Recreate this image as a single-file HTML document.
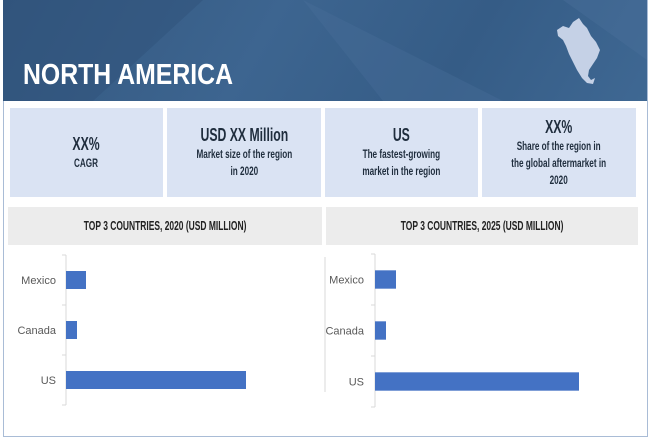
<!DOCTYPE html>
<html><head><meta charset="utf-8"><style>
body{margin:0;width:650px;height:444px;background:#fff;font-family:"Liberation Sans",sans-serif;position:relative;overflow:hidden}
.abs{position:absolute}
.box{position:absolute;top:108px;height:89px;background:#dae3f3;text-align:center;color:#1f2d3d;display:flex;flex-direction:column;justify-content:center;align-items:center;font-size:12px;line-height:17px;font-weight:bold}
.box div{transform:scaleX(0.68);white-space:nowrap}
.box b{font-size:18px;line-height:21px}
.hdr{position:absolute;top:207px;height:38px;background:#ececec;color:#222;text-align:center;line-height:38px}
.hdr span{display:inline-block;font-size:13px;font-weight:bold;transform:scaleX(0.65);white-space:nowrap}
.lbl{font-family:"Liberation Sans",sans-serif;font-size:11px;fill:#595959}
</style></head><body>
<div class="abs" style="left:3px;top:0;width:643px;height:436px;border:1px solid #a9bcd6;border-top:none"></div>
<div class="abs" style="left:3px;top:0;width:644px;height:101px;background:linear-gradient(120deg,#33577f 0%,#3d6590 40%,#355c86 70%,#3f6893 100%)">
<svg width="644" height="101" style="position:absolute;left:0;top:0">
<polygon points="0,0 200,0 90,101 0,101" fill="#2f527a" opacity="0.5"/>
<polygon points="300,0 500,101 380,101" fill="#4a709a" opacity="0.35"/>
<polygon points="560,0 644,60 644,0" fill="#4a709a" opacity="0.4"/>
<g fill="#c5d1e6">
<path d="M554,30 L560,26 L566,28 L570,22 L576,18 L580,24 L584,28 L588,36 L593,42 L597,50 L594,58 L590,64 L586,70 L585,76 L588,80 L592,78 L590,84 L584,83 L579,78 L574,70 L570,62 L566,54 L563,46 L560,40 L555,36 Z"/>
</g>
<text x="20" y="84" fill="#fff" font-family="Liberation Sans,sans-serif" font-weight="bold" font-size="29" textLength="210" lengthAdjust="spacingAndGlyphs">NORTH AMERICA</text>
</svg></div>
<div class="box" style="left:10px;width:153px"><div><b>XX%</b><br>CAGR</div></div>
<div class="box" style="left:167px;width:154px"><div><b>USD XX Million</b><br>Market size of the region<br>in 2020</div></div>
<div class="box" style="left:325px;width:153px"><div><b>US</b><br>The fastest-growing<br>market in the region</div></div>
<div class="box" style="left:482px;width:154px"><div><b>XX%</b><br>Share of the region in<br>the global aftermarket in<br>2020</div></div>
<div class="hdr" style="left:8px;width:314px"><span>TOP 3 COUNTRIES, 2020 (USD MILLION)</span></div>
<div class="hdr" style="left:326px;width:312px"><span>TOP 3 COUNTRIES, 2025 (USD MILLION)</span></div>
<svg id="charts" class="abs" style="left:0;top:0" width="650" height="444"></svg>
<script>
const categories=["Mexico","Canada","US"];
const values2020=[20,11,180];
const values2025=[21,11,204];
const svg=document.getElementById('charts');
const NS="http://www.w3.org/2000/svg";
function mk(t,a){const e=document.createElementNS(NS,t);for(const k in a)e.setAttribute(k,a[k]);svg.appendChild(e);return e;}
function chart(x0,top,bottom,vals,labelX,name){
  const band=(bottom-top)/categories.length;
  const xs=v=>x0+v*1.0;
  const ax=mk('line',{x1:x0,x2:x0,y1:top,y2:bottom,stroke:'#d9d9d9'});
  
  
  for(let i=0;i<=categories.length;i++){
    const y=top+i*band;
    const t=mk('line',{x1:x0-4,x2:x0,y1:y,y2:y,stroke:'#d9d9d9'});
    
    
  }
  categories.forEach((c,i)=>{
    const yc=top+band*(i+0.5);
    const h=band*0.36;
    const r=mk('rect',{x:x0,y:yc-h/2,width:xs(vals[i])-x0,height:h,fill:'#4472c4'});
    
    
    const t=mk('text',{x:labelX,y:yc+4,'text-anchor':'end',class:'lbl'});
    t.textContent=c;
    
    
  });
}
chart(66,255,405,values2020,56,'chart-2020');
chart(375,254,407,values2025,364,'chart-2025');
const l=mk('line',{x1:325,x2:325,y1:257,y2:392,stroke:'#d9d9d9'});


</script>
</body></html>
